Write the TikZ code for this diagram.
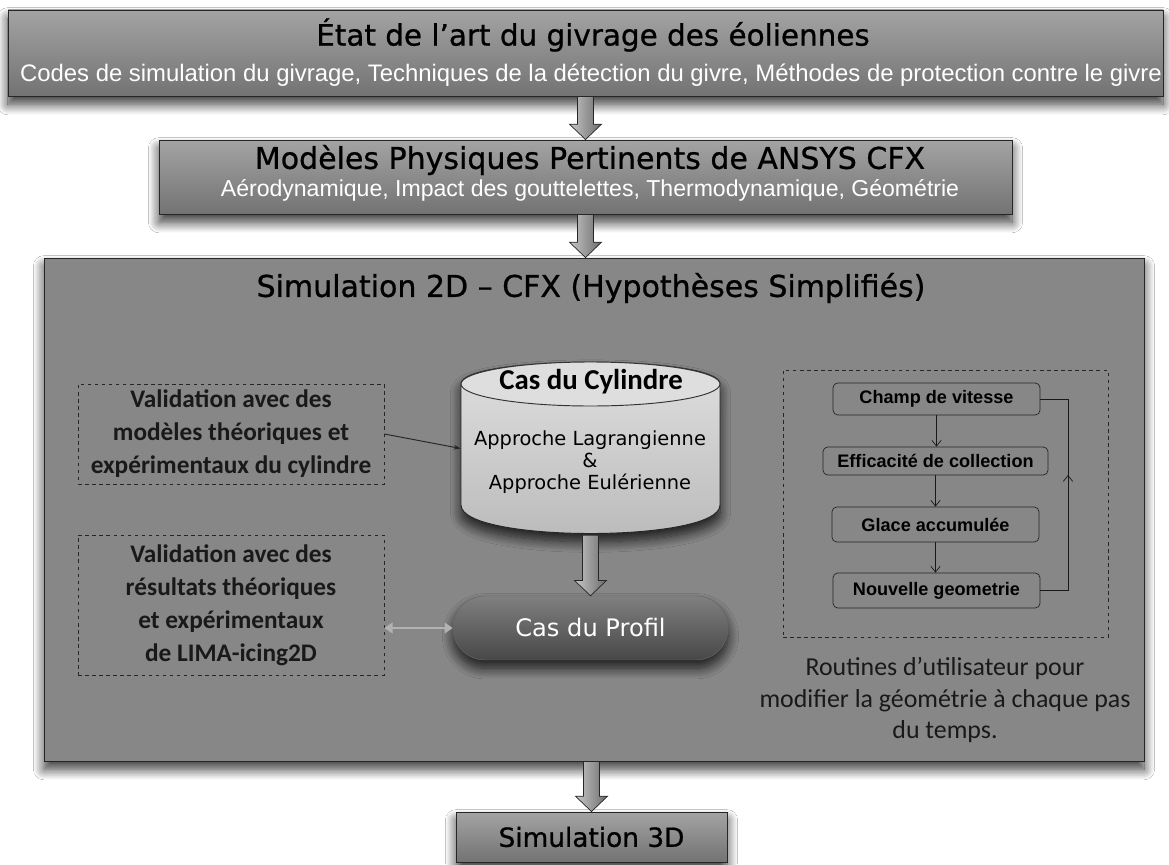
\documentclass[tikz,border=0pt]{standalone}
\usepackage{fontspec}
\setmainfont{DejaVu Sans}
\newfontfamily\ttlfont[FakeBold=0.8]{DejaVu Sans}
\newfontfamily\libsans{Liberation Sans}
\newfontfamily\carl{Carlito}
\usetikzlibrary{arrows.meta,shadows,shadows.blur,decorations.markings,calc}
\newcommand\fsz[2]{\fontsize{#1pt}{#2pt}\selectfont}
\begin{document}
\begin{tikzpicture}[x=0.85pt,y=-0.85pt,
  shd/.style={blur shadow={shadow xshift=0pt, shadow yshift=-7pt, shadow blur radius=9pt, shadow blur steps=14, shadow opacity=80}},
  hdr/.style={draw=black!85, line width=0.8pt, top color=black!36, bottom color=black!55, inner sep=0pt, shd},
  bigbox/.style={draw=black!85, line width=0.8pt, fill=black!47, inner sep=0pt, shd},
  dbox/.style={draw=black!85, dashed, line width=0.6pt, inner sep=0pt},
  ibox/.style={draw=black!85, line width=0.6pt, rounded corners=4pt, inner sep=0pt, font=\libsans\bfseries\fsz{15.4}{17}},
  profil/.style={draw=black!60, top color=black!50, bottom color=black!72, inner sep=0pt, text=white, font=\fsz{20.5}{24}, shd},
  bigarr/.style={draw=black!85, line width=0.6pt, left color=black!22, right color=black!58,
     to path={let \p1=(\tikztostart), \p2=(\tikztotarget) in
       (\x1-6.8pt,\y1) -- (\x1-6.8pt,\y2+13pt) -- (\x1-13.6pt,\y2+13pt) -- (\x1,\y2)
       -- (\x1+13.6pt,\y2+13pt) -- (\x1+6.8pt,\y2+13pt) -- (\x1+6.8pt,\y1) -- cycle}},
  sarr/.style={draw=black!90, line width=0.6pt, -{Straight Barb[length=5pt,width=8pt]}},
  ttl/.style={font=\ttlfont\fsz{25.5}{30}, text=black},
  sub/.style={font=\libsans\fsz{20.3}{24}, text=white},
  vtxt/.style={font=\carl\bfseries\fsz{21.5}{28}, align=center, text=black!90}
]
\fill[white] (0,0) rectangle (1169,864);
\useasboundingbox (0,0) rectangle (1169,864);

% top box
\node[hdr, minimum width=0.85*1155pt, minimum height=0.85*86pt] (top) at (585.5,53) {};
\node[ttl, font=\ttlfont\fsz{25}{30}] (topT) at (593,35) {État de l’art du givrage des éoliennes};
\node[sub] (topS) at (591,75) {Codes de simulation du givrage, Techniques de la détection du givre, Méthodes de protection contre le givre};

% second box
\node[hdr, minimum width=0.85*853pt, minimum height=0.85*74pt] (mod) at (585.5,177) {};
\node[ttl] (modT) at (590,160) {Modèles Physiques Pertinents de ANSYS CFX};
\node[sub, font=\libsans\fsz{19.6}{23}] (modS) at (590,190) {Aérodynamique, Impact des gouttelettes, Thermodynamique, Géométrie};

% big box
\node[bigbox, minimum width=0.85*1100pt, minimum height=0.85*503pt] (sim) at (594,509.5) {};
\node[ttl] (simT) at (591,288) {Simulation 2D – CFX (Hypothèses Simplifiés)};

% left dashed boxes
\node[dbox, vtxt, minimum width=0.85*306pt, minimum height=0.85*100pt] (v1) at (231,434)
  {Validation avec des\\modèles théoriques et\\expérimentaux du cylindre};
\node[dbox, vtxt, minimum width=0.85*306pt, minimum height=0.85*140pt] (v2) at (231,605)
  {Validation avec des\\résultats théoriques\\et expérimentaux\\de LIMA-icing2D};

% cylinder
\draw[draw=black!85, line width=0.8pt, top color=black!12, bottom color=black!27, shd]
  (461,384) -- (461,505) .. controls (461,543) and (720,543) .. (720,505)
  -- (720,384) .. controls (720,355) and (461,355) .. (461,384) -- cycle;
\draw[draw=black!80, line width=0.8pt, fill=black!13] (590.5,384) ellipse [x radius=129.5, y radius=22];
\node[minimum width=0.85*259pt, minimum height=0.85*173pt, inner sep=0pt] (cyl) at (590.5,448.5) {};
\node[font=\carl\bfseries\fsz{24.5}{28}, text=black] (cylT) at (591,382) {Cas du Cylindre};
\node[font=\fsz{16.5}{19}, align=center, text=black] (cylB) at (590,462) {Approche Lagrangienne\\\&\\Approche Eulérienne};

% profil
\node[profil, minimum width=0.85*275pt, minimum height=0.85*64pt, rounded corners=27pt] (prof) at (590.5,628) {Cas du Profil};

% right dashed box
\node[dbox, minimum width=0.85*325pt, minimum height=0.85*267pt] (rt) at (945.5,503.5) {};
\node[ibox, minimum width=0.85*207pt, minimum height=0.85*32pt] (champ) at (936.5,399) {Champ de vitesse};
\node[ibox, minimum width=0.85*225pt, minimum height=0.85*28pt] (eff) at (935.5,461) {Efficacité de collection};
\node[ibox, minimum width=0.85*207pt, minimum height=0.85*35pt] (glace) at (935.5,524.5) {Glace accumulée};
\node[ibox, minimum width=0.85*207pt, minimum height=0.85*35pt] (nouv) at (936.5,590.5) {Nouvelle geometrie};
\coordinate (lp) at (1068,399);
\draw[sarr] (champ.south) -- (champ.south |- eff.north);
\draw[sarr] (eff.south) -- (eff.south |- glace.north);
\draw[sarr] (glace.south) -- (glace.south |- nouv.north);
\draw[draw=black!90, line width=0.6pt, postaction={decorate},
  decoration={markings, mark=at position 0.58 with {\arrow{Straight Barb[length=5pt,width=8pt]}}}]
  (nouv.east) -| (lp) -- (champ.east);
\node[font=\carl\fsz{22}{27}, align=center, text=black!90] (rout) at (945,700)
  {Routines d’utilisateur pour\\modifier la géométrie à chaque pas\\du temps.};

% bottom box
\node[hdr, minimum width=0.85*271pt, minimum height=0.85*50pt, font=\ttlfont\fsz{22.4}{26}] (s3d) at (591.5,837) {Simulation 3D};

% connectors
\draw[bigarr] (top.south) to (top.south |- mod.north);
\draw[bigarr] (mod.south) to (mod.south |- sim.north);
\draw[bigarr] (cyl.south) to (prof.north);
\draw[bigarr] (sim.south -| s3d.north) to (s3d.north);
\draw[draw=black!85, line width=0.8pt, -{Stealth[length=6pt,width=4pt]}] (v1.east) -- (cyl.west);
\draw[draw=black!30, line width=2.5pt, {Triangle[length=7pt,width=9pt]}-{Triangle[length=7pt,width=9pt]}]
  (prof.west -| v2.east) -- (prof.west);
\end{tikzpicture}
\end{document}
